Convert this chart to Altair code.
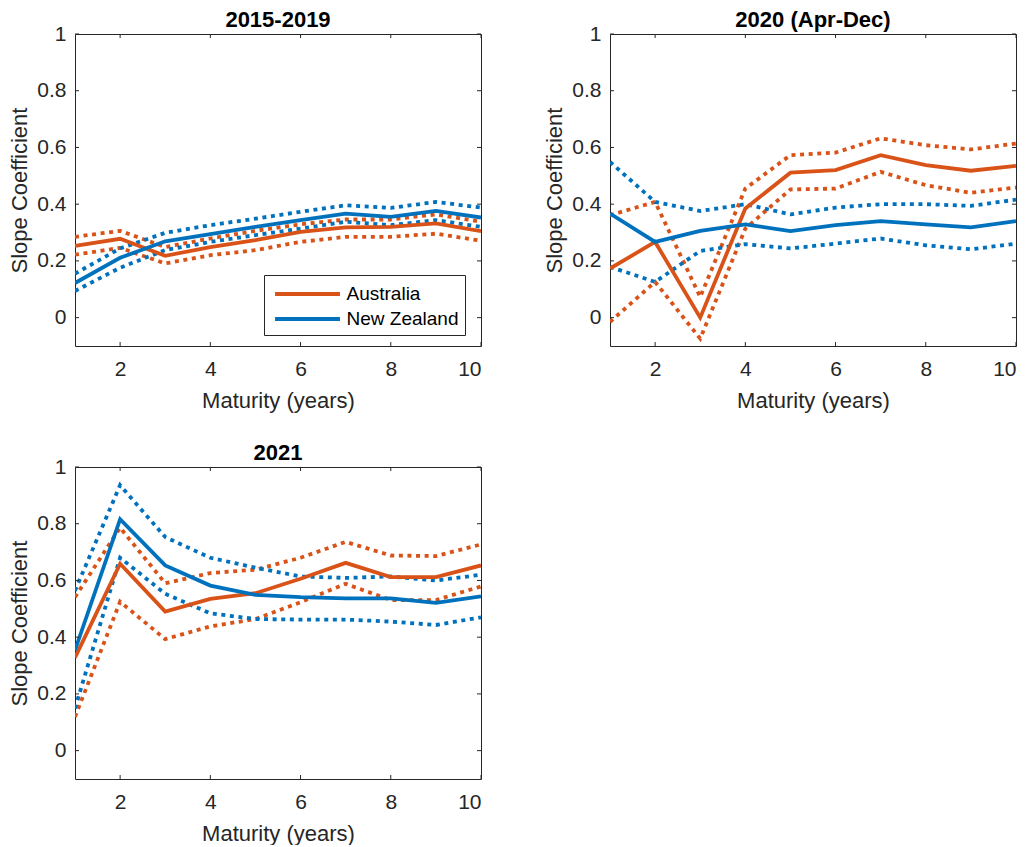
import altair as alt
import pandas as pd

maturity = [1, 2, 3, 4, 5, 6, 7, 8, 9, 10]
countries = ["Australia", "New Zealand"]
colors = ["#D95319", "#0072BD"]
panel_titles = ["2015-2019", "2020 (Apr-Dec)", "2021"]

# 2015-2019
p1_au_est = [0.253, 0.278, 0.218, 0.249, 0.273, 0.302, 0.318, 0.320, 0.332, 0.305]
p1_au_hi = [0.285, 0.306, 0.249, 0.279, 0.306, 0.329, 0.346, 0.346, 0.364, 0.338]
p1_au_lo = [0.222, 0.246, 0.191, 0.220, 0.238, 0.267, 0.285, 0.285, 0.296, 0.271]
p1_nz_est = [0.122, 0.211, 0.269, 0.294, 0.320, 0.344, 0.367, 0.355, 0.376, 0.353]
p1_nz_hi = [0.155, 0.244, 0.299, 0.326, 0.349, 0.373, 0.396, 0.387, 0.408, 0.388]
p1_nz_lo = [0.094, 0.176, 0.238, 0.267, 0.291, 0.314, 0.338, 0.326, 0.344, 0.320]

# 2020 (Apr-Dec)
p2_au_est = [0.173, 0.267, 0.000, 0.385, 0.511, 0.520, 0.573, 0.538, 0.518, 0.535]
p2_au_hi = [0.361, 0.408, 0.073, 0.455, 0.573, 0.582, 0.632, 0.608, 0.593, 0.614]
p2_au_lo = [-0.015, 0.126, -0.074, 0.314, 0.452, 0.455, 0.514, 0.467, 0.440, 0.459]
p2_nz_est = [0.367, 0.267, 0.306, 0.329, 0.305, 0.326, 0.340, 0.329, 0.318, 0.340]
p2_nz_hi = [0.549, 0.408, 0.376, 0.400, 0.364, 0.388, 0.400, 0.400, 0.394, 0.416]
p2_nz_lo = [0.179, 0.126, 0.235, 0.259, 0.244, 0.261, 0.279, 0.255, 0.241, 0.261]

# 2021
p3_au_est = [0.328, 0.659, 0.490, 0.535, 0.555, 0.606, 0.662, 0.612, 0.612, 0.653]
p3_au_hi = [0.541, 0.786, 0.590, 0.626, 0.638, 0.680, 0.736, 0.688, 0.686, 0.727]
p3_au_lo = [0.119, 0.525, 0.393, 0.438, 0.464, 0.523, 0.588, 0.531, 0.531, 0.579]
p3_nz_est = [0.354, 0.816, 0.653, 0.582, 0.549, 0.541, 0.537, 0.537, 0.521, 0.544]
p3_nz_hi = [0.564, 0.936, 0.753, 0.680, 0.645, 0.614, 0.609, 0.614, 0.600, 0.620]
p3_nz_lo = [0.149, 0.680, 0.553, 0.484, 0.464, 0.462, 0.462, 0.455, 0.443, 0.470]

x_ticks = [2, 4, 6, 8, 10]
y_ticks = [0, 0.2, 0.4, 0.6, 0.8, 1]

W, H = 406, 312
FONT = "Liberation Sans"
AX = "#262626"


def frame(series):
    rows = []
    for country, kind, vals in series:
        for m, v in zip(maturity, vals):
            rows.append({"country": country, "kind": kind, "maturity": m, "value": v})
    return pd.DataFrame(rows)


def panel(title, series, show_legend):
    df = frame(series)
    xs = alt.Scale(domain=[1, 10], nice=False)
    ys = alt.Scale(domain=[-0.1, 1], nice=False)
    cs = alt.Scale(domain=countries, range=colors)
    xax = alt.Axis(values=x_ticks, title="Maturity (years)", labelPadding=12, titlePadding=11)
    yax = alt.Axis(values=y_ticks, format="~g", title="Slope Coefficient", labelPadding=9, titlePadding=5)
    if show_legend:
        leg = alt.Legend(
            title=None, orient="none", legendX=189, legendY=241,
            symbolType="M-2.95,0H2.95", symbolSize=484, symbolStrokeWidth=4,
            symbolOffset=24.5, labelOffset=26,
            labelFontSize=19, labelFont=FONT, labelColor="#000000",
            padding=6, rowPadding=2, strokeColor=AX, fillColor="white",
        )
    else:
        leg = None
    base = alt.Chart(df).encode(
        x=alt.X("maturity:Q", scale=xs, axis=xax),
        y=alt.Y("value:Q", scale=ys, axis=yax),
    )
    dotted = base.transform_filter(alt.datum.kind != "est").mark_line(
        strokeWidth=3.8, strokeDash=[4, 4.6], clip=True
    ).encode(
        stroke=alt.Stroke("country:N", scale=cs, legend=None),
        detail="kind:N",
    )
    solid = base.transform_filter(alt.datum.kind == "est").mark_line(
        strokeWidth=3.8, clip=True
    ).encode(
        color=alt.Color("country:N", scale=cs, legend=leg),
    )
    xt = alt.Chart(pd.DataFrame({"t": x_ticks}))
    yt = alt.Chart(pd.DataFrame({"t": y_ticks}))
    tick_style = dict(color=AX, strokeWidth=1)
    bx = xt.mark_rule(**tick_style).encode(x=alt.X("t:Q", scale=xs), y=alt.value(H), y2=alt.value(H - 4))
    tx = xt.mark_rule(**tick_style).encode(x=alt.X("t:Q", scale=xs), y=alt.value(0), y2=alt.value(4))
    ly = yt.mark_rule(**tick_style).encode(y=alt.Y("t:Q", scale=ys), x=alt.value(0), x2=alt.value(4))
    ry = yt.mark_rule(**tick_style).encode(y=alt.Y("t:Q", scale=ys), x=alt.value(W), x2=alt.value(W - 4))
    return alt.layer(dotted, solid, bx, tx, ly, ry).properties(
        width=W, height=H,
        title=alt.TitleParams(title, fontSize=22, fontWeight="bold", font=FONT, color="#000000", offset=-9),
    )


c1 = panel(panel_titles[0], [
    ("Australia", "est", p1_au_est), ("Australia", "hi", p1_au_hi), ("Australia", "lo", p1_au_lo),
    ("New Zealand", "est", p1_nz_est), ("New Zealand", "hi", p1_nz_hi), ("New Zealand", "lo", p1_nz_lo),
], True)
c2 = panel(panel_titles[1], [
    ("Australia", "est", p2_au_est), ("Australia", "hi", p2_au_hi), ("Australia", "lo", p2_au_lo),
    ("New Zealand", "est", p2_nz_est), ("New Zealand", "hi", p2_nz_hi), ("New Zealand", "lo", p2_nz_lo),
], False)
c3 = panel(panel_titles[2], [
    ("Australia", "est", p3_au_est), ("Australia", "hi", p3_au_hi), ("Australia", "lo", p3_au_lo),
    ("New Zealand", "est", p3_nz_est), ("New Zealand", "hi", p3_nz_hi), ("New Zealand", "lo", p3_nz_lo),
], False)

row1 = alt.hconcat(c1, c2, spacing=61).resolve_legend(color="independent")
chart = alt.vconcat(row1, c3, spacing=29).resolve_legend(color="independent").properties(
    padding=0, background="white"
).configure_view(stroke=AX, strokeWidth=1).configure_axis(
    grid=False, domain=False, ticks=False, labelFont=FONT, labelFontSize=21, labelColor=AX,
    titleFont=FONT, titleFontSize=22, titleFontWeight="normal", titleColor=AX,
)

chart.save("out.html", embed_options={"renderer": "svg", "actions": False})
